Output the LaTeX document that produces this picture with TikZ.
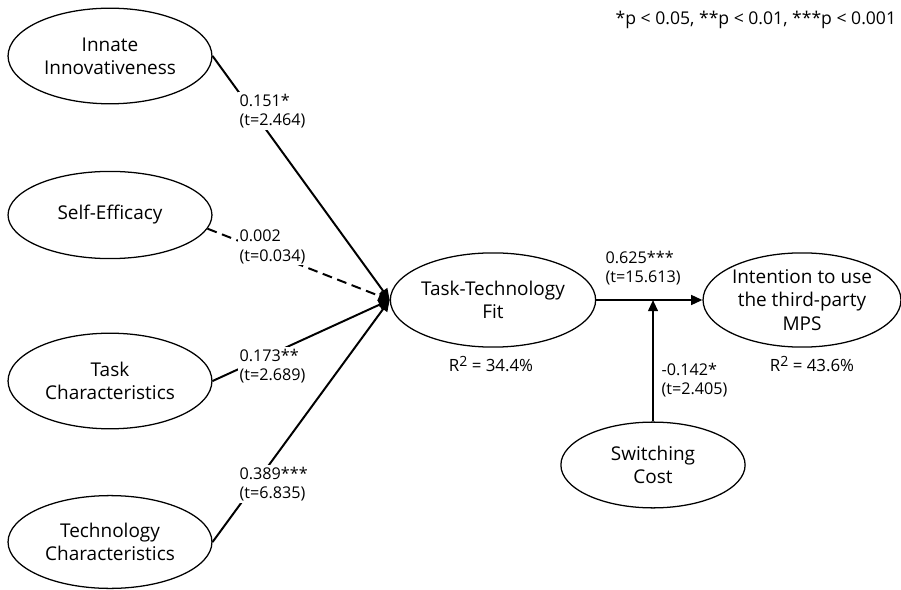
\documentclass[tikz,border=0pt]{standalone}
\usepackage{fontspec}
\setmainfont{Open Sans}
\usetikzlibrary{shapes.geometric,arrows.meta}

\tikzset{
  construct/.style={draw, ellipse, line width=0.9pt, inner sep=0pt, align=center,
    font=\fontsize{13.5}{16.5}\selectfont},
  coef/.style={fill=white, inner sep=1pt, align=left, anchor=west,
    font=\fontsize{11.5}{14}\selectfont},
  rsq/.style={inner sep=1pt, font=\fontsize{12}{14}\selectfont},
  path/.style={line width=1.4pt, -{Triangle[length=8pt,width=7pt]}}
}
\newcommand{\rsquare}[1]{R\raisebox{0.45ex}{\fontsize{10}{10}\selectfont 2} = #1\%}

\begin{document}
\begin{tikzpicture}[x=0.025cm, y=-0.025cm]
    \useasboundingbox (0,0) rectangle (901,590);
    % constructs
    \node[construct, minimum width=145pt, minimum height=68pt] (ii) at (110,56) {Innate\\Innovativeness};
    \node[construct, minimum width=145pt, minimum height=62pt] (se) at (110,215) {Self-Efficacy};
    \node[construct, minimum width=145pt, minimum height=68pt] (tc) at (110,381) {Task\\Characteristics};
    \node[construct, minimum width=145pt, minimum height=66pt] (tec) at (110,542) {Technology\\Characteristics};
    \node[construct, minimum width=146pt, minimum height=67pt] (ttf) at (493,300) {Task-Technology\\Fit};
    \node[construct, minimum width=140pt, minimum height=67pt] (int) at (802,300) {Intention to use\\the third-party\\MPS};
    \node[construct, minimum width=131pt, minimum height=61pt] (sc) at (653,465) {Switching\\Cost};

    % paths
    \draw[path] (ii.east) -- (ttf.west);
    \draw[path, dash pattern=on 7pt off 4pt] (se.-8) -- (ttf.west);
    \draw[path] (tc.east) -- (ttf.west);
    \draw[path] (tec.east) -- (ttf.west);
    \draw[path] (ttf.east) -- (int.west);
    \draw[path] (sc.north) -- (sc.north |- ttf.east);

    % coefficients
    \node[coef] (c1) at (238,111) {0.151*\\(t=2.464)};
    \node[coef] (c2) at (238,247) {0.002\\(t=0.034)};
    \node[coef] (c3) at (238,366) {0.173**\\(t=2.689)};
    \node[coef] (c4) at (238,484) {0.389***\\(t=6.835)};
    \node[coef] (c5) at (604,268) {0.625***\\(t=15.613)};
    \node[coef] (c6) at (660,380) {-0.142*\\(t=2.405)};
    \node[rsq] (r1) at (491,364) {\rsquare{34.4}};
    \node[rsq] (r2) at (812,364) {\rsquare{43.6}};
    \node[coef, font=\fontsize{12.5}{14}\selectfont] (sig) at (614,20) {*p < 0.05, **p < 0.01, ***p < 0.001};
\end{tikzpicture}
\end{document}
